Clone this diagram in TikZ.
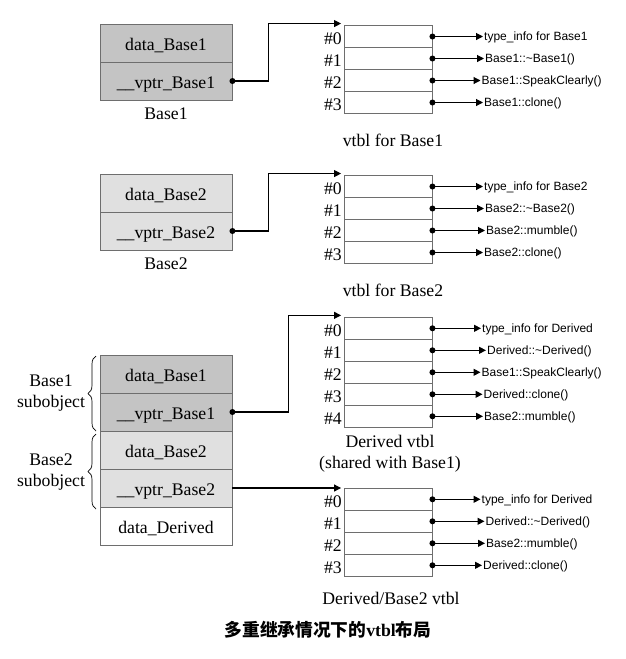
\documentclass[tikz,border=0pt]{standalone}
\usepackage{fontspec}
\setmainfont{Liberation Serif}
\newfontfamily\sansf{Liberation Sans}
\newfontfamily\cjk{Noto Sans CJK SC}
\usetikzlibrary{arrows.meta,decorations.pathreplacing,calc}
\definecolor{dgray}{HTML}{C4C4C4}
\definecolor{lgray}{HTML}{E0E0E0}
\definecolor{bord}{HTML}{6E6E6E}
\newcommand\mkvtbl[3]{%
  \foreach \i/\t/\tx in {#3}{%
    \pgfmathsetmacro\cy{#2+11+22*\i}
    \node[vcell] (#1-\i) at (388,\cy) {};
    \node[idx] (#1-l\i) at (342,\cy+2.3) {\#\i};
    \node[fn] (#1-t\i) at (\tx,\cy) {\t};
    \draw[fnarrow] (#1-\i.east) -- (#1-t\i.west);
    \fill (#1-\i.east) circle (3pt);
  }}
\begin{document}
\begin{tikzpicture}[x=1pt,y=-1pt,
  cell/.style={draw=bord, line width=0.9pt, minimum width=132pt, minimum height=38pt, inner sep=0pt, text height=15pt, text depth=0pt, font=\fontsize{17.7}{21}\selectfont},
  vcell/.style={draw=bord, line width=0.9pt, minimum width=88pt, minimum height=22pt, inner sep=0pt},
  idx/.style={anchor=east, inner sep=0pt, font=\fontsize{17.7}{21}\selectfont},
  captxt/.style={inner sep=0pt, font=\fontsize{17.7}{21}\selectfont},
  fn/.style={anchor=west, inner sep=0pt, text height=8.6pt, text depth=0pt, font=\sansf\fontsize{12}{14}\selectfont},
  fnarrow/.style={line width=1.1pt, -{Triangle[length=7pt,width=7pt]}, shorten >=1pt},
  ptr/.style={line width=1.1pt, -{Triangle[length=7pt,width=7pt]}},
  bracestyle/.style={line width=0.7pt, decorate, decoration={brace, amplitude=8pt}}
]
\fill[white] (0,0) rectangle (625,659);
\useasboundingbox (0,0) rectangle (625,659);

% ---------- Base1 ----------
\node[cell, fill=dgray] (b1d) at (166,43) {data\_Base1};
\node[cell, fill=dgray] (b1v) at (166,81) {\_\_vptr\_Base1};
\node[captxt] (b1c) at (166,114) {Base1};
\mkvtbl{va}{25.5}{0/type\_info for Base1/484, 1/Base1::\textasciitilde Base1()/485, 2/Base1::SpeakClearly()/481.5, 3/Base1::clone()/484}
\node[captxt] (vac) at (393,140) {vtbl for Base1};
\coordinate (ca) at ($(va-0.north west)+(-2.5,-1.5)$);
\draw[ptr] (b1v.east) -- ++(36,0) |- (ca);
\fill (b1v.east) circle (3pt);

% ---------- Base2 ----------
\node[cell, fill=lgray] (b2d) at (166,193) {data\_Base2};
\node[cell, fill=lgray] (b2v) at (166,231) {\_\_vptr\_Base2};
\node[captxt] (b2c) at (166,264) {Base2};
\mkvtbl{vb}{175.5}{0/type\_info for Base2/484, 1/Base2::\textasciitilde Base2()/485, 2/Base2::mumble()/486, 3/Base2::clone()/484}
\node[captxt] (vbc) at (393,290) {vtbl for Base2};
\coordinate (cb) at ($(vb-0.north west)+(-2.5,-1.5)$);
\draw[ptr] (b2v.east) -- ++(36,0) |- (cb);
\fill (b2v.east) circle (3pt);

% ---------- Derived ----------
\node[cell, fill=dgray] (d1) at (166,374) {data\_Base1};
\node[cell, fill=dgray] (d2) at (166,412) {\_\_vptr\_Base1};
\node[cell, fill=lgray] (d3) at (166,450) {data\_Base2};
\node[cell, fill=lgray] (d4) at (166,488) {\_\_vptr\_Base2};
\node[cell, fill=white] (d5) at (166,526) {data\_Derived};
\draw[bracestyle] (96,431) -- (96,356);
\draw[bracestyle] (96,509) -- (96,434);
\node[captxt, align=center] (s1) at (51,393.5) {Base1\\subobject};
\node[captxt, align=center] (s2) at (51,472) {Base2\\subobject};

\mkvtbl{vc}{317.3}{0/type\_info for Derived/482, 1/Derived::\textasciitilde Derived()/487, 2/Base1::SpeakClearly()/481.5, 3/Derived::clone()/483.5, 4/Base2::mumble()/484}
\node[captxt, align=center] (vcc) at (390,453.5) {Derived vtbl\\(shared with Base1)};
\coordinate (cc) at ($(vc-0.north west)+(-2.5,-1.5)$);
\draw[ptr] (d2.east) -- ++(56,0) |- (cc);
\fill (d2.east) circle (3pt);

\mkvtbl{vd}{488.3}{0/type\_info for Derived/481.5, 1/Derived::\textasciitilde Derived()/485.5, 2/Base2::mumble()/486, 3/Derived::clone()/483}
\node[captxt] (vdc) at (391,598) {Derived/Base2 vtbl};
\coordinate (cd) at ($(vd-0.north west)+(-2.5,-1.5)$);
\draw[ptr] (d4.east) -- (d4.east -| cd);

% ---------- title ----------
\node[captxt] (title) at (328,630) {{\cjk\bfseries 多重继承情况下的}\textbf{vtbl}{\cjk\bfseries 布局}};
\end{tikzpicture}
\end{document}
